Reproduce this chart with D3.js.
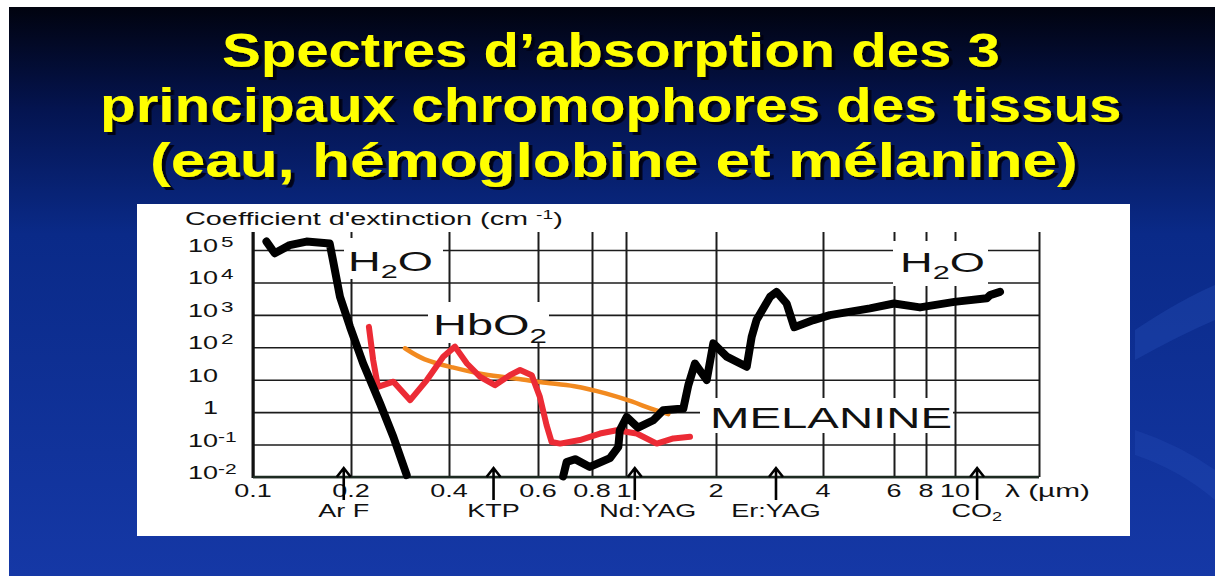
<!DOCTYPE html>
<html><head><meta charset="utf-8">
<script src="https://cdn.jsdelivr.net/npm/d3@7"></script>
<style>html,body{margin:0;padding:0;background:#fff;overflow:hidden} svg{display:block}</style>
</head><body><svg id="c" width="1215" height="576"></svg>
<script>
// ---------- data ----------
const titleLines = ["Spectres d’absorption des 3", "principaux chromophores des tissus", "(eau, hémoglobine et mélanine)"];
const xTickValues = [0.1, 0.2, 0.4, 0.6, 0.8, 1, 2, 4, 6, 8, 10];
const xTickLabels = ["0.1", "0.2", "0.4", "0.6", "0.8", "1", "2", "4", "6", "8", "10"];
const yTickExponents = [5, 4, 3, 2, 1, 0, -1, -2];
const laserNames = ["Ar F", "KTP", "Nd:YAG", "Er:YAG", "CO2"];
const laserWavelengths = [0.19, 0.49, 1.07, 2.95, 12];

// water (UV side): wavelength µm, log10 of extinction coefficient
const waterUV_x = [0.11, 0.1166, 0.1297, 0.146, 0.172, 0.176, 0.185, 0.1986, 0.218, 0.2456, 0.2698, 0.2966];
const waterUV_log = [5.26, 4.9, 5.15, 5.26, 5.2, 4.69, 3.56, 2.63, 1.5, 0.27, -0.76, -1.94];
// water (visible / IR side)
const waterIR_x = [0.686, 0.699, 0.731, 0.791, 0.9, 0.951, 0.96, 1.005, 1.097, 1.234, 1.333, 1.555, 1.616, 1.701, 1.862, 1.959, 2.144, 2.44, 2.52, 2.60, 2.84, 2.96, 3.16, 3.32, 3.76, 4.16, 5.23, 6.0, 7.58, 9.95, 12.99, 13.35, 14.5];
const waterIR_log = [-1.98, -1.54, -1.45, -1.69, -1.42, -1.07, -0.56, -0.15, -0.48, -0.25, 0.06, 0.11, 0.83, 1.50, 0.99, 2.12, 1.71, 1.40, 2.32, 2.84, 3.56, 3.71, 3.35, 2.62, 2.84, 2.99, 3.20, 3.35, 3.23, 3.40, 3.51, 3.61, 3.71];
// oxyhemoglobin
const hbo2_x = [0.227, 0.234, 0.242, 0.270, 0.304, 0.342, 0.384, 0.411, 0.434, 0.461, 0.493, 0.528, 0.553, 0.583, 0.606, 0.628, 0.645, 0.675, 0.75, 0.843, 0.941, 1.086, 1.267, 1.44, 1.637];
const hbo2_log = [2.63, 1.60, 0.78, 0.94, 0.37, 0.99, 1.71, 2.02, 1.50, 1.09, 0.83, 1.14, 1.30, 1.14, 0.47, -0.40, -0.92, -0.97, -0.86, -0.66, -0.56, -0.66, -0.97, -0.81, -0.76];
// melanin
const melanin_x = [0.293, 0.334, 0.402, 0.468, 0.545, 0.628, 0.724, 0.881, 1.058, 1.203, 1.385];
const melanin_log = [1.97, 1.60, 1.40, 1.14, 1.04, 0.89, 0.83, 0.58, 0.32, 0.11, -0.06];

// ---------- layout ----------
const FONT = "'Liberation Sans', Arial, Helvetica, sans-serif";
const svg = d3.select("#c");
const W = 1215, H = 576;

// hand-drawn (non-uniform) logarithmic wavelength axis of the original figure
const x = d3.scaleLog()
  .domain([0.1, 0.2, 0.4, 0.6, 0.8, 1, 2, 4, 6, 8, 10, 20])
  .range([253, 351, 449, 538, 592, 626, 716, 823, 894, 926, 955, 1039]);
const y = d3.scaleLog().domain([1e-2, 1e5]).range([477, 250]);
const plotLeft = 253, plotRight = 1039, plotBottom = 477, gridTop = 232;

// ---------- background ----------
const defs = svg.append("defs");
const grad = defs.append("linearGradient").attr("id", "bg").attr("x1", 0).attr("y1", 0).attr("x2", 0).attr("y2", 1);
[[0, "#01030f"], [0.18, "#041450"], [0.4, "#0a2a88"], [1, "#1538a6"]].forEach(s =>
  grad.append("stop").attr("offset", s[0]).attr("stop-color", s[1]));
const shadow = defs.append("filter").attr("id", "shadow").attr("x", "-5%").attr("y", "-20%").attr("width", "110%").attr("height", "140%");
shadow.append("feDropShadow").attr("dx", 3).attr("dy", 3).attr("stdDeviation", 0.6).attr("flood-color", "#05050c").attr("flood-opacity", 0.9);

svg.append("rect").attr("width", W).attr("height", H).attr("fill", "#fff");
svg.append("rect").attr("x", 9).attr("y", 7).attr("width", W - 9).attr("height", H - 7).attr("fill", "url(#bg)");
// faint decorative swooshes at right
svg.append("path").attr("d", "M1135,330 Q1180,300 1215,285 L1215,320 Q1180,335 1135,360 Z").attr("fill", "#2a55c0").attr("opacity", 0.3);
svg.append("path").attr("d", "M1135,430 Q1180,445 1215,470 L1215,500 Q1180,470 1135,455 Z").attr("fill", "#2a55c0").attr("opacity", 0.25);

// ---------- text helper ----------
function addText(parent, tx, ty, parts, o) {
  const g = parent.append("g");
  const t = g.append("text").attr("font-family", FONT).attr("font-size", o.size)
    .attr("font-weight", o.weight || "normal").attr("fill", o.fill || "#111");
  parts.forEach(p => {
    const s = t.append("tspan").text(p.t);
    if (p.size) s.attr("font-size", p.size);
    if (p.dy) s.attr("dy", p.dy);
    if (p.dx) s.attr("dx", p.dx);
  });
  const bb = t.node().getBBox();
  const sx = o.width ? o.width / bb.width : (o.sx || 1);
  let left = tx;
  if (o.anchor === "middle") left = tx - bb.width * sx / 2;
  if (o.anchor === "end") left = tx - bb.width * sx;
  g.attr("transform", `translate(${left - bb.x * sx},${ty}) scale(${sx},1)`);
  return g;
}

// ---------- title ----------
const titleLeft = [222, 100, 150], titleWidth = [778, 1022, 928], titleBase = [67, 122, 177];
titleLines.forEach((line, i) => {
  addText(svg, titleLeft[i], titleBase[i], [{t: line}], {size: 49, weight: "bold", fill: "#ffff00", width: titleWidth[i]})
    .select("text").attr("filter", "url(#shadow)");
});

// ---------- chart panel ----------
svg.append("rect").attr("x", 137).attr("y", 204).attr("width", 993).attr("height", 332).attr("fill", "#fff");
const chart = svg.append("g");

// grid lines through d3 axes
const gx = chart.append("g").attr("transform", `translate(0,${plotBottom})`)
  .call(d3.axisBottom(x).tickValues(xTickValues.concat([20])).tickSize(-(plotBottom - gridTop)).tickFormat(""));
gx.select(".domain").remove();
gx.selectAll(".tick line").attr("stroke", "#1c1c1c").attr("stroke-width", 2);
const gy = chart.append("g").attr("transform", `translate(${plotLeft},0)`)
  .call(d3.axisLeft(y).tickValues(yTickExponents.map(e => Math.pow(10, e))).tickSize(-(plotRight - plotLeft)).tickFormat(""));
gy.select(".domain").remove();
gy.selectAll(".tick line").attr("stroke", "#1c1c1c").attr("stroke-width", 1.6);
// axes
chart.append("line").attr("x1", plotLeft).attr("x2", plotLeft).attr("y1", gridTop).attr("y2", plotBottom + 1).attr("stroke", "#111").attr("stroke-width", 3);
chart.append("line").attr("x1", plotLeft).attr("x2", plotRight).attr("y1", plotBottom).attr("y2", plotBottom).attr("stroke", "#1d2b22").attr("stroke-width", 2.6);

// label boxes (white masks over grid) + labels
const boxes = [[344, 238, 99, 41], [893, 241, 95, 45], [428, 302, 121, 41], [700, 398, 253, 35]];
boxes.forEach(b => chart.append("rect").attr("x", b[0]).attr("y", b[1]).attr("width", b[2]).attr("height", b[3]).attr("fill", "#fff"));
addText(chart, 348, 271, [{t: "H"}, {t: "2", size: 19, dy: 7}, {t: "O", dy: -7}], {size: 28, width: 85});
addText(chart, 900, 272, [{t: "H"}, {t: "2", size: 19, dy: 7}, {t: "O", dy: -7}], {size: 28, width: 85});
addText(chart, 433, 335, [{t: "HbO"}, {t: "2", size: 20, dy: 8}], {size: 30, width: 114});
addText(chart, 710, 428, [{t: "MELANINE"}], {size: 29, width: 242});

// axis title
addText(chart, 185, 225, [{t: "Coefficient d'extinction (cm "}, {t: "-1", size: 12, dy: -6}, {t: ")", dy: 6}], {size: 18, width: 378});

// y tick labels
yTickExponents.forEach(e => {
  const yy = y(Math.pow(10, e)) + 2;
  if (e === 1) addText(chart, 188, yy, [{t: "10"}], {size: 18, sx: 1.5});
  else if (e === 0) addText(chart, 203, yy, [{t: "1"}], {size: 18, sx: 1.5});
  else addText(chart, 188, yy, [{t: "10"}, {t: String(e), size: e < 0 ? 14 : 15, dy: -5, dx: e < 0 ? 0 : 2}], {size: 18, sx: 1.5});
});

// x tick labels
xTickValues.forEach((v, i) => {
  addText(chart, x(v) - (v === 1 ? 2 : 0), 497, [{t: xTickLabels[i]}], {size: 18, sx: 1.5, anchor: "middle"});
});
addText(chart, 1005, 497, [{t: "λ (µm)"}], {size: 18, width: 85});

// ---------- curves ----------
const line = d3.line().x(d => x(d[0])).y(d => y(Math.pow(10, d[1])));
const zip = (a, b) => a.map((v, i) => [v, b[i]]);
chart.append("path").datum(zip(melanin_x, melanin_log))
  .attr("d", line.curve(d3.curveBasis)).attr("fill", "none").attr("stroke", "#f28a20").attr("stroke-width", 4.5).attr("stroke-linecap", "round");
chart.append("path").datum(zip(hbo2_x, hbo2_log))
  .attr("d", line.curve(d3.curveLinear)).attr("fill", "none").attr("stroke", "#ec2b35").attr("stroke-width", 6).attr("stroke-linejoin", "round").attr("stroke-linecap", "round");
[zip(waterUV_x, waterUV_log), zip(waterIR_x, waterIR_log)].forEach(d => {
  chart.append("path").datum(d).attr("d", line.curve(d3.curveLinear)).attr("fill", "none")
    .attr("stroke", "#000").attr("stroke-width", 8).attr("stroke-linejoin", "round").attr("stroke-linecap", "round");
});

// ---------- laser arrows + names ----------
laserWavelengths.forEach((w, i) => {
  const ax = x(w);
  chart.append("path").attr("d", `M${ax},500 L${ax},468 M${ax - 7},477 L${ax},468 L${ax + 7},477`)
    .attr("fill", "none").attr("stroke", "#000").attr("stroke-width", 2.6);
  const name = laserNames[i];
  const parts = name === "CO2" ? [{t: "CO"}, {t: "2", size: 12, dy: 4}] : [{t: name}];
  addText(chart, ax + (name === "Nd:YAG" ? 13 : 0), 517, parts, {size: 18, sx: 1.5, anchor: "middle"});
});
</script></body></html>
